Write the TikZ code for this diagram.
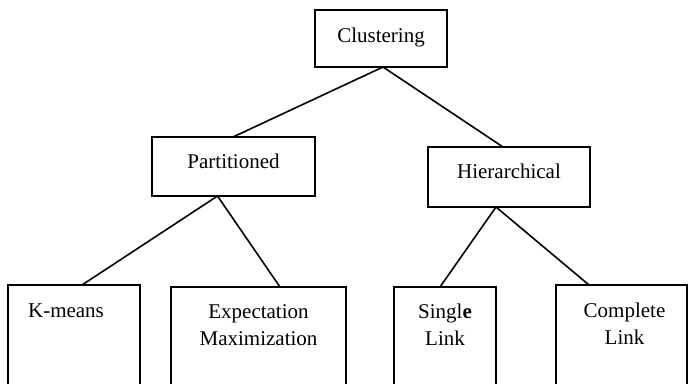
\documentclass[tikz,border=0pt]{standalone}
\usepackage{fontspec}
\setmainfont{Liberation Serif}
\begin{document}
\begin{tikzpicture}[x=1pt,y=-1pt,
  box/.style={draw,line width=1.6pt,rectangle,inner sep=0pt,outer sep=0pt,anchor=north west},
  txt/.style={font=\fontsize{21}{27.5}\selectfont,inner sep=0pt,align=center,anchor=base},
  conn/.style={line width=1.6pt}]
\useasboundingbox (0,0) rectangle (688,383);
\clip (0,0) rectangle (688,383);
% boxes
\node[box,minimum width=132pt,minimum height=57pt] (clus) at (315,10) {};
\node[box,minimum width=163pt,minimum height=59pt] (part) at (152,137) {};
\node[box,minimum width=162pt,minimum height=60pt] (hier) at (428,147) {};
\node[box,minimum width=132pt,minimum height=130pt] (km) at (8,285) {};
\node[box,minimum width=175pt,minimum height=130pt] (em) at (171,287) {};
\node[box,minimum width=102pt,minimum height=130pt] (sl) at (394,287) {};
\node[box,minimum width=131pt,minimum height=130pt] (cl) at (556,285) {};
% texts
\node[txt] (clust) at ([shift={(0,3.5)}]clus.center) {Clustering};
\node[txt] (partt) at ([shift={(0,1.5)}]part.center) {Partitioned};
\node[txt] (hiert) at ([shift={(0,1)}]hier.center) {Hierarchical};
\node[txt] (kmt) at ([shift={(-8,32)}]km.north) {K-means};
\node[txt] (emt) at ([shift={(0,58.5)}]em.north) {Expectation\\Maximization};
\node[txt] (slt) at ([shift={(0,58.5)}]sl.north) {Singl\textbf{e}\\Link};
\node[txt] (clt) at ([shift={(3,59.5)}]cl.north) {Complete\\Link};
% connectors
\draw[conn] ([xshift=2pt]clus.south) -- ([xshift=-0.5pt]part.north);
\draw[conn] ([xshift=2pt]clus.south) -- ([xshift=-6pt]hier.north);
\draw[conn] ([xshift=-16pt]part.south) -- ([xshift=8pt]km.north);
\draw[conn] ([xshift=-16pt]part.south) -- ([xshift=21.5pt]em.north);
\draw[conn] ([xshift=-13pt]hier.south) -- ([xshift=-5pt]sl.north);
\draw[conn] ([xshift=-13pt]hier.south) -- ([xshift=-32.5pt]cl.north);
\end{tikzpicture}
\end{document}
